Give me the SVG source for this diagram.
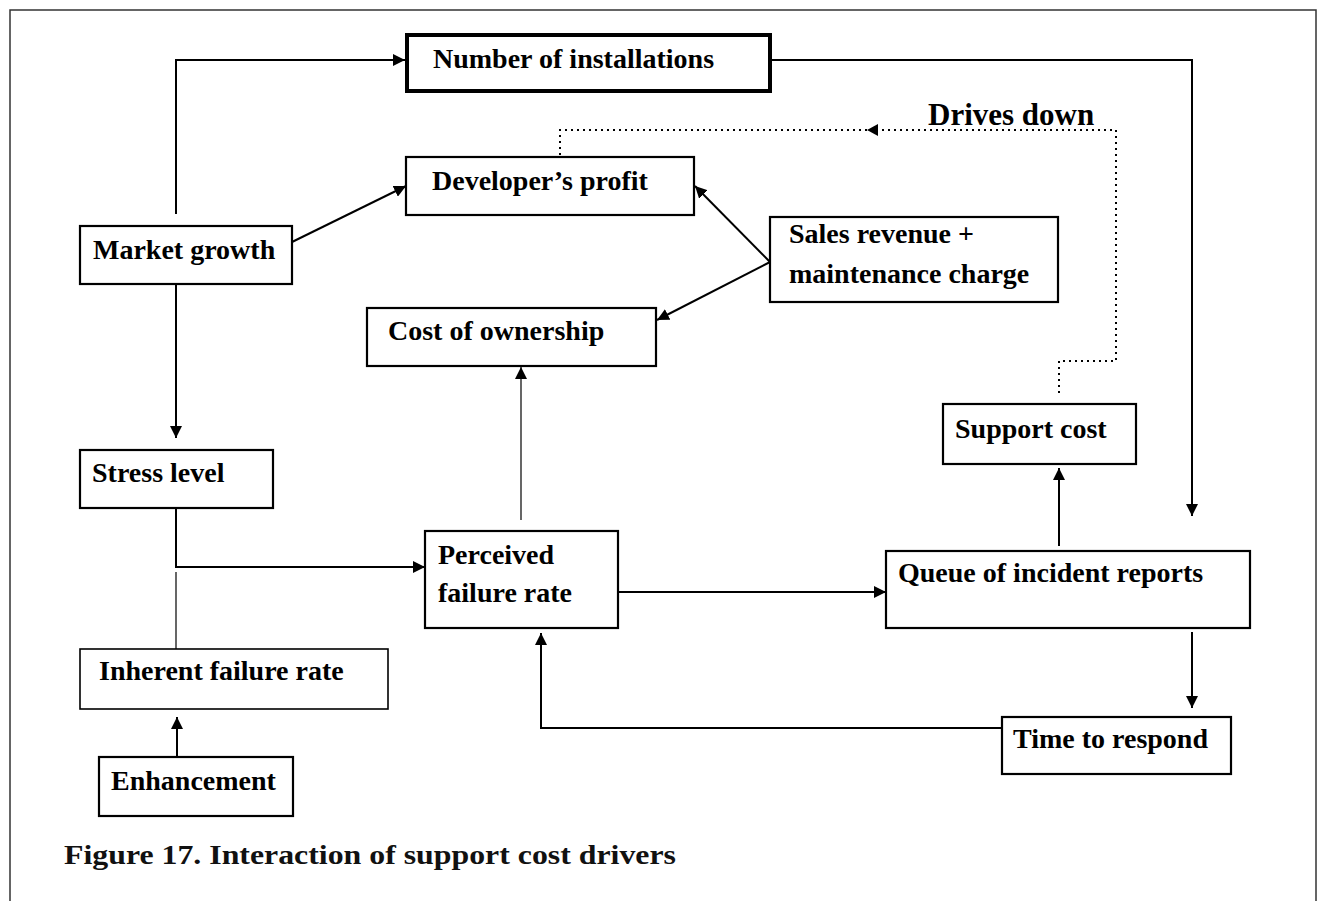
<svg xmlns="http://www.w3.org/2000/svg" width="1321" height="901" viewBox="0 0 1321 901">
  <style>
    .box { fill: #ffffff; stroke: #000000; stroke-width: 2.2; }
    .box-thick { fill: #ffffff; stroke: #000000; stroke-width: 4; }
    .box-thin { fill: #ffffff; stroke: #000000; stroke-width: 1.6; }
    .label { font-family: "Liberation Serif", "Times New Roman", serif; font-weight: bold; font-size: 28px; fill: #000000; }
    .note { font-family: "Liberation Serif", "Times New Roman", serif; font-weight: bold; font-size: 31px; fill: #000000; }
    .caption { font-family: "Liberation Serif", "Times New Roman", serif; font-weight: bold; font-size: 27px; fill: #111111; }
    .wire { fill: none; stroke: #000000; stroke-width: 2; }
    .wire-thin { fill: none; stroke: #000000; stroke-width: 1.2; }
    .dotted { fill: none; stroke: #000000; stroke-width: 2; stroke-dasharray: 2 4; }
    .frame { fill: none; stroke: #333333; stroke-width: 1.5; }
  </style>
  <defs>
    <marker id="arrow" markerUnits="userSpaceOnUse" markerWidth="12" markerHeight="12" refX="12" refY="6" orient="auto">
      <path d="M0,0 L12,6 L0,12 Z" fill="#000000"/>
    </marker>
    <marker id="arrow-small" markerUnits="userSpaceOnUse" markerWidth="11" markerHeight="12" refX="11" refY="6" orient="auto">
      <path d="M0,0 L11,6 L0,12 Z" fill="#000000"/>
    </marker>
  </defs>

  <rect width="1321" height="901" fill="#ffffff"/>
  <!-- page frame -->
  <path class="frame" d="M10,901 V10 H1316 V901"/>

  <!-- connectors -->
  <g id="connectors">
    <path class="wire" d="M176,214 V60 H405" marker-end="url(#arrow)"/>
    <path class="wire" d="M292,242 L406,186" marker-end="url(#arrow)"/>
    <path class="wire" d="M176,284 V438" marker-end="url(#arrow)"/>
    <path class="wire" d="M176,508 V567 H425" marker-end="url(#arrow)"/>
    <path class="wire-thin" d="M176,572 V649"/>
    <path class="wire" d="M177,757 V717" marker-end="url(#arrow)"/>
    <path class="wire" d="M770,262 L695,186" marker-end="url(#arrow)"/>
    <path class="wire" d="M770,262 L657,320" marker-end="url(#arrow)"/>
    <path class="wire-thin" d="M521,520 V367" marker-end="url(#arrow)"/>
    <path class="wire" d="M618,592 H886" marker-end="url(#arrow)"/>
    <path class="wire" d="M772,60 H1192 V516" marker-end="url(#arrow)"/>
    <path class="wire" d="M1059,546 V468" marker-end="url(#arrow)"/>
    <path class="wire" d="M1192,632 V708" marker-end="url(#arrow)"/>
    <path class="wire" d="M1002,728 H541 V633" marker-end="url(#arrow)"/>
    <!-- dotted feedback: support cost drives down developer's profit -->
    <path class="dotted" d="M1059,393 V361 H1116 V130 H867" marker-end="url(#arrow-small)"/>
    <path class="dotted" d="M867,130 H560 V155"/>
    <text class="note" x="928" y="125">Drives down</text>
  </g>

  <g id="number-of-installations">
    <rect class="box-thick" x="407" y="35" width="363" height="56"/>
    <text class="label" x="433" y="68">Number of installations</text>
  </g>
  <g id="developers-profit">
    <rect class="box" x="406" y="157" width="288" height="58"/>
    <text class="label" x="432" y="190">Developer’s profit</text>
  </g>
  <g id="market-growth">
    <rect class="box" x="80" y="226" width="212" height="58"/>
    <text class="label" x="93" y="259">Market growth</text>
  </g>
  <g id="sales-revenue">
    <rect class="box" x="770" y="217" width="288" height="85"/>
    <text class="label" x="789" y="243">Sales revenue +</text>
    <text class="label" x="789" y="283">maintenance charge</text>
  </g>
  <g id="cost-of-ownership">
    <rect class="box" x="367" y="308" width="289" height="58"/>
    <text class="label" x="388" y="340">Cost of ownership</text>
  </g>
  <g id="stress-level">
    <rect class="box" x="80" y="450" width="193" height="58"/>
    <text class="label" x="92" y="482">Stress level</text>
  </g>
  <g id="perceived-failure-rate">
    <rect class="box" x="425" y="531" width="193" height="97"/>
    <text class="label" x="438" y="564">Perceived</text>
    <text class="label" x="438" y="602">failure rate</text>
  </g>
  <g id="queue-of-incident-reports">
    <rect class="box" x="886" y="551" width="364" height="77"/>
    <text class="label" x="898" y="582">Queue of incident reports</text>
  </g>
  <g id="support-cost">
    <rect class="box" x="943" y="404" width="193" height="60"/>
    <text class="label" x="955" y="438">Support cost</text>
  </g>
  <g id="time-to-respond">
    <rect class="box" x="1002" y="717" width="229" height="57"/>
    <text class="label" x="1013" y="748">Time to respond</text>
  </g>
  <g id="inherent-failure-rate">
    <rect class="box-thin" x="80" y="649" width="308" height="60"/>
    <text class="label" x="99" y="680">Inherent failure rate</text>
  </g>
  <g id="enhancement">
    <rect class="box" x="99" y="757" width="194" height="59"/>
    <text class="label" x="111" y="790">Enhancement</text>
  </g>

  <text class="caption" x="64" y="864" textLength="612" lengthAdjust="spacingAndGlyphs">Figure 17. Interaction of support cost drivers</text>
</svg>
